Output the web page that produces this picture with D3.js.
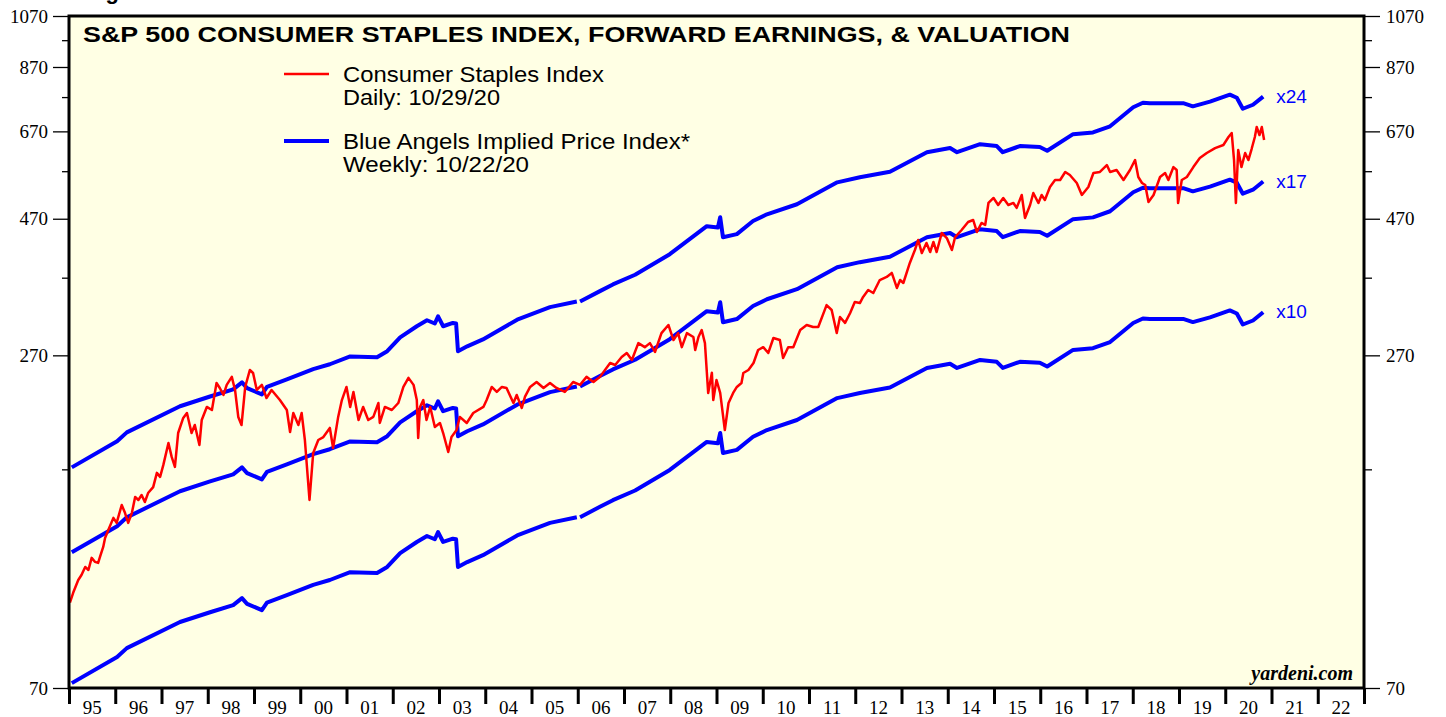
<!DOCTYPE html>
<html>
<head>
<meta charset="utf-8">
<script src="https://cdn.jsdelivr.net/npm/d3@7"></script>
<style>
  body { margin: 0; background: #fff; }
</style>
</head>
<body>
<div id="chart"></div>
<script>
// Consumer Staples index, daily (decimal year, index level)
const redYears = [
  1995.02,1995.09,1995.20,1995.27,1995.35,1995.42,1995.49,1995.56,1995.63,1995.67,
  1995.74,1995.78,1995.85,1995.96,1996.03,1996.14,1996.21,1996.28,1996.36,1996.43,
  1996.50,1996.57,1996.64,1996.71,1996.82,1996.90,1996.97,1997.04,1997.15,1997.22,
  1997.29,1997.36,1997.47,1997.55,1997.65,1997.72,1997.82,1997.87,1997.98,1998.09,
  1998.19,1998.26,1998.34,1998.41,1998.52,1998.59,1998.66,1998.73,1998.81,1998.91,
  1998.98,1999.06,1999.17,1999.27,1999.38,1999.56,1999.71,1999.78,1999.85,1999.96,
  2000.03,2000.10,2000.20,2000.28,2000.39,2000.50,2000.64,2000.71,2000.82,2000.90,
  2001.00,2001.08,2001.15,2001.26,2001.36,2001.47,2001.58,2001.69,2001.72,2001.83,
  2001.98,2002.12,2002.23,2002.34,2002.45,2002.52,2002.55,2002.59,2002.66,2002.73,
  2002.81,2002.91,2003.02,2003.09,2003.20,2003.27,2003.38,2003.45,2003.60,2003.74,
  2003.96,2004.03,2004.14,2004.25,2004.36,2004.46,2004.61,2004.68,2004.79,2004.86,
  2004.97,2005.11,2005.26,2005.40,2005.54,2005.72,2005.90,2006.05,2006.19,2006.34,
  2006.48,2006.70,2006.81,2006.95,2007.06,2007.17,2007.31,2007.45,2007.56,2007.67,
  2007.81,2007.96,2008.07,2008.17,2008.25,2008.36,2008.50,2008.54,2008.61,2008.68,
  2008.75,2008.82,2008.90,2008.93,2009.00,2009.08,2009.18,2009.26,2009.36,2009.44,
  2009.54,2009.58,2009.69,2009.80,2009.90,2010.01,2010.12,2010.23,2010.37,2010.44,
  2010.55,2010.66,2010.81,2010.95,2011.09,2011.20,2011.38,2011.49,2011.60,2011.67,
  2011.78,2011.89,2011.99,2012.10,2012.17,2012.28,2012.39,2012.53,2012.68,2012.79,
  2012.90,2012.97,2013.04,2013.18,2013.29,2013.36,2013.44,2013.54,2013.62,2013.69,
  2013.76,2013.87,2013.98,2014.09,2014.16,2014.30,2014.44,2014.55,2014.63,2014.73,
  2014.81,2014.88,2014.99,2015.09,2015.20,2015.31,2015.42,2015.49,2015.60,2015.67,
  2015.78,2015.85,2015.96,2016.03,2016.10,2016.21,2016.32,2016.43,2016.54,2016.64,
  2016.79,2016.90,2017.04,2017.15,2017.29,2017.44,2017.51,2017.65,2017.80,2017.94,
  2018.05,2018.12,2018.20,2018.27,2018.34,2018.45,2018.59,2018.70,2018.77,2018.88,
  2018.95,2018.98,2019.06,2019.17,2019.31,2019.45,2019.60,2019.78,2019.96,2020.07,
  2020.14,2020.19,2020.23,2020.28,2020.35,2020.43,2020.50,2020.57,2020.64,2020.68,
  2020.74,2020.79,2020.84
];
const redValues = [
  99,103,108.5,110.7,114.4,113,118.7,116.8,116.3,119.2,
  124.1,128.7,132.9,139.6,136.8,147.1,142.5,136.8,142.5,152,
  150.1,153.2,148.9,154.4,158.2,167.6,164.9,173.1,189.2,178.8,
  171.7,197,209.4,213.7,197,203.5,187.7,207.7,219,216.3,
  241.3,236.5,229.9,239.5,247.4,234.6,210.3,203.5,237.5,254.4,
  251.3,234.6,239.5,227.1,234.6,225.2,216.3,197.8,213.7,203.5,
  213.7,191.5,150.1,181.7,191.5,193.8,201.1,185.4,210.3,225.2,
  237.5,219,232.7,207.7,219,207.7,210.3,222.5,205.2,219,
  216.3,222.5,237.5,246.4,239.5,225.2,193.1,219,225.2,207.7,
  219,201.9,205.2,197,182.4,193.9,199.4,210.3,205.2,213.7,
  219,225.2,237.5,232.7,237.5,236.5,222.5,229.9,218.1,228.4,
  237.5,242.3,236.5,241.3,236.5,232.7,242.3,239.5,247.4,242.3,
  247.4,261.7,259.6,268.2,272.6,264.9,283.7,279.1,283.7,273.7,
  295.5,305.4,287.3,295.5,279.1,295.5,290.8,275.9,290.8,299.2,
  283.7,231.8,251.5,225.2,244.3,231.8,199.4,222.5,231.8,237.5,
  241.3,251.3,254.4,261.7,275.9,279.1,272.6,289.7,287.3,267.1,
  279.1,279.1,299.2,305.4,302.9,302.9,331,324.5,295.5,315.5,
  308,320.6,335.2,333.8,342.2,352,347.7,366.5,371.1,377.2,
  354.9,366.5,362.1,392.8,414,431.1,408.9,426,410.6,427.7,
  410.6,443.6,434.5,414,436.3,449,463.8,467.6,445.4,462,
  458.2,501.1,511.3,497,511.3,497,501.1,491.1,517.6,471.5,
  497,521.8,501.1,517.6,507.1,534.6,550,550,568.2,561.3,
  543.4,517.6,534.6,565.9,568.2,584.4,568.2,572.8,550,572.8,
  596.4,556.7,543.4,539,503.1,517.6,556.7,565.9,550,579.6,
  572.8,501.1,550,556.7,579.6,601.1,613.6,626.1,634,654.8,
  665.5,596.4,501.1,621.1,579.6,613.6,596.4,623.6,654.8,682,
  660.1,682,646.9
];

// Forward earnings, weekly (null = break in the series)
const earnYears = [
  1995.06,1996.04,1996.25,1997.40,1998.05,1998.55,1998.74,1998.85,1999.17,1999.28,
  1999.71,2000.28,2000.64,2001.08,2001.66,2001.88,2002.16,2002.52,2002.74,2002.91,
  2002.98,2003.09,2003.30,2003.37,2003.41,2003.61,2003.95,2004.69,2005.40,2005.98,
  2006.00,2006.05,2006.48,2006.76,2007.24,2007.99,2008.79,2009.03,2009.08,2009.14,
  2009.44,2009.79,2010.09,2010.74,2011.61,2012.10,2012.75,2013.55,2014.05,2014.20,
  2014.70,2015.06,2015.19,2015.56,2015.99,2016.15,2016.71,2017.14,2017.51,2018.01,
  2018.22,2018.37,2019.09,2019.30,2019.67,2020.10,2020.25,2020.38,2020.60,2020.82
];
const earnValues = [
  7.14,7.94,8.23,9.15,9.52,9.80,10.08,9.85,9.60,9.90,
  10.2,10.64,10.85,11.2,11.16,11.44,12.1,12.66,12.97,12.8,
  13.18,12.66,12.83,12.8,11.44,11.67,12.0,13.0,13.68,14.0,
  null,14.0,14.6,15.0,15.6,16.96,19.0,18.9,19.7,18.17,
  18.4,19.4,19.94,20.77,22.7,23.18,23.7,25.65,26.1,25.65,
  26.5,26.3,25.65,26.3,26.2,25.8,27.6,27.8,28.5,30.78,
  31.35,31.3,31.3,30.9,31.5,32.4,32.0,30.6,31.1,32.15
];

const multiples = [24, 17, 10];
const yTicks = [70, 270, 470, 670, 870, 1070];
const yMinor = [170, 370, 570, 770, 970];
const years = d3.range(1995, 2023);

const W = 1446, H = 717;
const margin = { top: 16, right: 82, bottom: 29, left: 69 };
const iw = W - margin.left - margin.right;
const ih = H - margin.top - margin.bottom;

const svg = d3.select("#chart")
  .append("svg")
  .attr("width", W)
  .attr("height", H);

// cut-off figure caption above the frame
svg.append("text")
  .attr("x", 86)
  .attr("y", -1)
  .attr("font-family", "Liberation Sans, Arial, sans-serif")
  .attr("font-weight", "bold")
  .attr("font-size", 22)
  .text("Figure 1.");

const g = svg.append("g")
  .attr("transform", `translate(${margin.left},${margin.top})`);

const x = d3.scaleLinear().domain([1995, 2023]).range([0, iw]);
const y = d3.scaleLog().domain([70, 1070]).range([ih, 0]);

// plot background
g.append("rect")
  .attr("width", iw)
  .attr("height", ih)
  .attr("fill", "#ffffe4");

g.append("clipPath")
  .attr("id", "clip")
  .append("rect")
  .attr("width", iw)
  .attr("height", ih);

// blue valuation bands (earnings x multiple)
const blueLine = d3.line()
  .defined(d => d[1] != null)
  .x(d => x(d[0]))
  .y(d => y(d[1]));

multiples.forEach(m => {
  const pts = earnYears.map((t, i) => [t, earnValues[i] == null ? null : earnValues[i] * m]);
  g.append("path")
    .datum(pts)
    .attr("clip-path", "url(#clip)")
    .attr("fill", "none")
    .attr("stroke", "#0000ff")
    .attr("stroke-width", 4)
    .attr("stroke-linejoin", "round")
    .attr("d", blueLine);

  const last = pts[pts.length - 1];
  g.append("text")
    .attr("x", x(last[0]) + 13)
    .attr("y", y(last[1]) + 6)
    .attr("font-family", "Liberation Sans, Arial, sans-serif")
    .attr("font-size", 19)
    .attr("fill", "#0000ff")
    .text("x" + m);
});

// red index line
const redLine = d3.line()
  .x(d => x(d[0]))
  .y(d => y(d[1]));

g.append("path")
  .datum(redYears.map((t, i) => [t, redValues[i]]))
  .attr("clip-path", "url(#clip)")
  .attr("fill", "none")
  .attr("stroke", "#ff0000")
  .attr("stroke-width", 2.5)
  .attr("stroke-linejoin", "round")
  .attr("d", redLine);

// y axes, left and right
const yLeft = g.append("g")
  .call(d3.axisLeft(y).tickValues(yTicks).tickSize(16).tickFormat(d3.format("d")));
const yLeftMinor = g.append("g")
  .call(d3.axisLeft(y).tickValues(yMinor).tickSize(7).tickFormat(""));
const yRight = g.append("g")
  .attr("transform", `translate(${iw},0)`)
  .call(d3.axisRight(y).tickValues(yTicks).tickSize(16).tickFormat(d3.format("d")));
const yRightMinor = g.append("g")
  .attr("transform", `translate(${iw},0)`)
  .call(d3.axisRight(y).tickValues(yMinor).tickSize(8).tickFormat(""));

[yLeft, yLeftMinor, yRight, yRightMinor].forEach(a => {
  a.select(".domain").remove();
  a.selectAll("line").attr("stroke", "#000").attr("stroke-width", 1.3);
  a.selectAll("text")
    .attr("font-family", "Liberation Serif, Times New Roman, serif")
    .attr("font-size", 19)
    .attr("fill", "#000");
});
yLeft.selectAll("text").attr("x", -21);
yRight.selectAll("text").attr("x", 22);

// x axis: ticks at year boundaries, labels mid-year
const xAxis = g.append("g")
  .attr("transform", `translate(0,${ih})`)
  .call(d3.axisBottom(x).tickValues(d3.range(1995, 2024)).tickSize(16).tickFormat(""));
xAxis.select(".domain").remove();
xAxis.selectAll("line").attr("stroke", "#000").attr("stroke-width", 3);

g.append("g")
  .selectAll("text")
  .data(years)
  .enter()
  .append("text")
  .attr("x", d => x(d + 0.5))
  .attr("y", ih + 26)
  .attr("text-anchor", "middle")
  .attr("font-family", "Liberation Serif, Times New Roman, serif")
  .attr("font-size", 19)
  .text(d => String(d % 100).padStart(2, "0"));

// frame
g.append("rect")
  .attr("width", iw)
  .attr("height", ih)
  .attr("fill", "none")
  .attr("stroke", "#000")
  .attr("stroke-width", 3);

// title (the original face is wider than Arial, so stretch to its width)
svg.append("text")
  .attr("x", 83)
  .attr("y", 42)
  .attr("font-family", "Liberation Sans, Arial, sans-serif")
  .attr("font-weight", "bold")
  .attr("font-size", 22)
  .attr("textLength", 987)
  .attr("lengthAdjust", "spacingAndGlyphs")
  .text("S&P 500 CONSUMER STAPLES INDEX, FORWARD EARNINGS, & VALUATION");

// legend
const legend = [
  { color: "#ff0000", width: 2.5, y: 74, lines: ["Consumer Staples Index", "Daily: 10/29/20"], lens: [261, 157] },
  { color: "#0000ff", width: 4, y: 141, lines: ["Blue Angels Implied Price Index*", "Weekly: 10/22/20"], lens: [347, 186] }
];
legend.forEach(l => {
  svg.append("line")
    .attr("x1", 284).attr("x2", 329)
    .attr("y1", l.y).attr("y2", l.y)
    .attr("stroke", l.color)
    .attr("stroke-width", l.width);
  l.lines.forEach((s, i) => {
    svg.append("text")
      .attr("x", 343)
      .attr("y", l.y + 8 + i * 23)
      .attr("font-family", "Liberation Sans, Arial, sans-serif")
      .attr("font-size", 22)
      .attr("textLength", l.lens[i])
      .attr("lengthAdjust", "spacingAndGlyphs")
      .text(s);
  });
});

// source
svg.append("text")
  .attr("x", 1353)
  .attr("y", 680)
  .attr("text-anchor", "end")
  .attr("font-family", "Liberation Serif, Times New Roman, serif")
  .attr("font-weight", "bold")
  .attr("font-style", "italic")
  .attr("font-size", 20)
  .text("yardeni.com");
</script>
</body>
</html>
